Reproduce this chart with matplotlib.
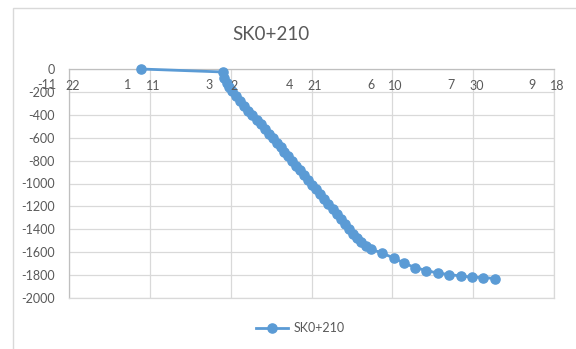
import numpy as np
import matplotlib.pyplot as plt
from matplotlib.patches import Rectangle

plt.rcParams['font.family'] = ['Lato', 'DejaVu Sans']

# series (x in chart units, y in mm)
x_vals = [0.89, 1.90, 1.92, 1.95, 1.98, 2.02, 2.07, 2.12, 2.17, 2.22, 2.27,
          2.32, 2.37, 2.42, 2.47, 2.52, 2.57, 2.62, 2.66, 2.71, 2.76, 2.81,
          2.86, 2.91, 2.96, 3.01, 3.06, 3.11, 3.16, 3.21, 3.26, 3.31, 3.36,
          3.41, 3.46, 3.51, 3.56, 3.61, 3.67, 3.73, 3.87, 4.02, 4.14, 4.28,
          4.42, 4.56, 4.70, 4.85, 4.98, 5.12, 5.27]
y_vals = [0, -26, -79, -122, -157, -192, -236, -279, -323, -367, -402,
          -445, -480, -524, -568, -603, -646, -681, -725, -760, -803, -847,
          -882, -926, -969, -1013, -1048, -1092, -1135, -1179, -1223, -1266, -1310,
          -1354, -1397, -1441, -1476, -1511, -1546, -1572, -1607, -1651, -1694, -1734,
          -1760, -1782, -1795, -1808, -1817, -1821, -1830]

# the two overlapping x label rows
main_labels = ['22', '11', '2', '21', '10', '30', '18']
extra_labels = ['-11', '1', '3', '4', '6', '7', '9']
y_ticks = list(range(0, -2001, -200))

blue = '#5B9BD5'
grey_txt = '#595959'
grid_c = '#D9D9D9'

fig = plt.figure(figsize=(5.76, 3.49), dpi=100)
ax = fig.add_axes([69 / 576, 1 - 298 / 349, (554 - 69) / 576, (298 - 69) / 349])

# chart border
fig.patches.append(Rectangle((13 / 576, -0.1), 1.2, 1 - 8 / 349 + 0.1,
                             transform=fig.transFigure, fill=False,
                             edgecolor='#D9D9D9', linewidth=1))

ax.plot(x_vals, y_vals, color=blue, linewidth=2.0, marker='o',
        markersize=6.6, markerfacecolor=blue, markeredgecolor=blue,
        label='SK0+210', zorder=3, clip_on=False)

ax.set_xlim(0, 6)
ax.set_ylim(-2000, 0)
ax.set_xticks(np.arange(7))
ax.set_xticklabels([])
ax.set_yticks(y_ticks)
ax.set_yticklabels([str(v) for v in y_ticks])
ax.tick_params(axis='y', length=0, pad=10, labelsize=9, labelcolor=grey_txt)
ax.tick_params(axis='x', length=0)
ax.grid(True, color=grid_c, linewidth=0.9)
ax.set_axisbelow(True)
for s in ax.spines.values():
    s.set_color(grid_c)
    s.set_linewidth(0.9)
ax.spines['left'].set_color('#BFBFBF')
ax.spines['top'].set_color('#BFBFBF')

# x labels sit just under the zero line
trans = ax.get_xaxis_transform()
for i, lab in enumerate(main_labels):
    ax.text(i + 0.04, 1 - 17 / 229, lab, transform=trans, ha='center',
            va='center', fontsize=9, color=grey_txt, clip_on=False)
for i, lab in enumerate(extra_labels):
    ax.text(i - 0.27, 1 - 16 / 229, lab, transform=trans, ha='center',
            va='center', fontsize=9, color=grey_txt, clip_on=False)

fig.text(271 / 576, 1 - 35 / 349, 'SK0+210', ha='center', va='center',
         fontsize=13.5, color=grey_txt)

fig.legend(loc='center', bbox_to_anchor=(300 / 576, 1 - 328 / 349),
           frameon=False, fontsize=9, labelcolor=grey_txt,
           handlelength=2.6, handletextpad=0.4)

fig.savefig('out.png', dpi=100)
